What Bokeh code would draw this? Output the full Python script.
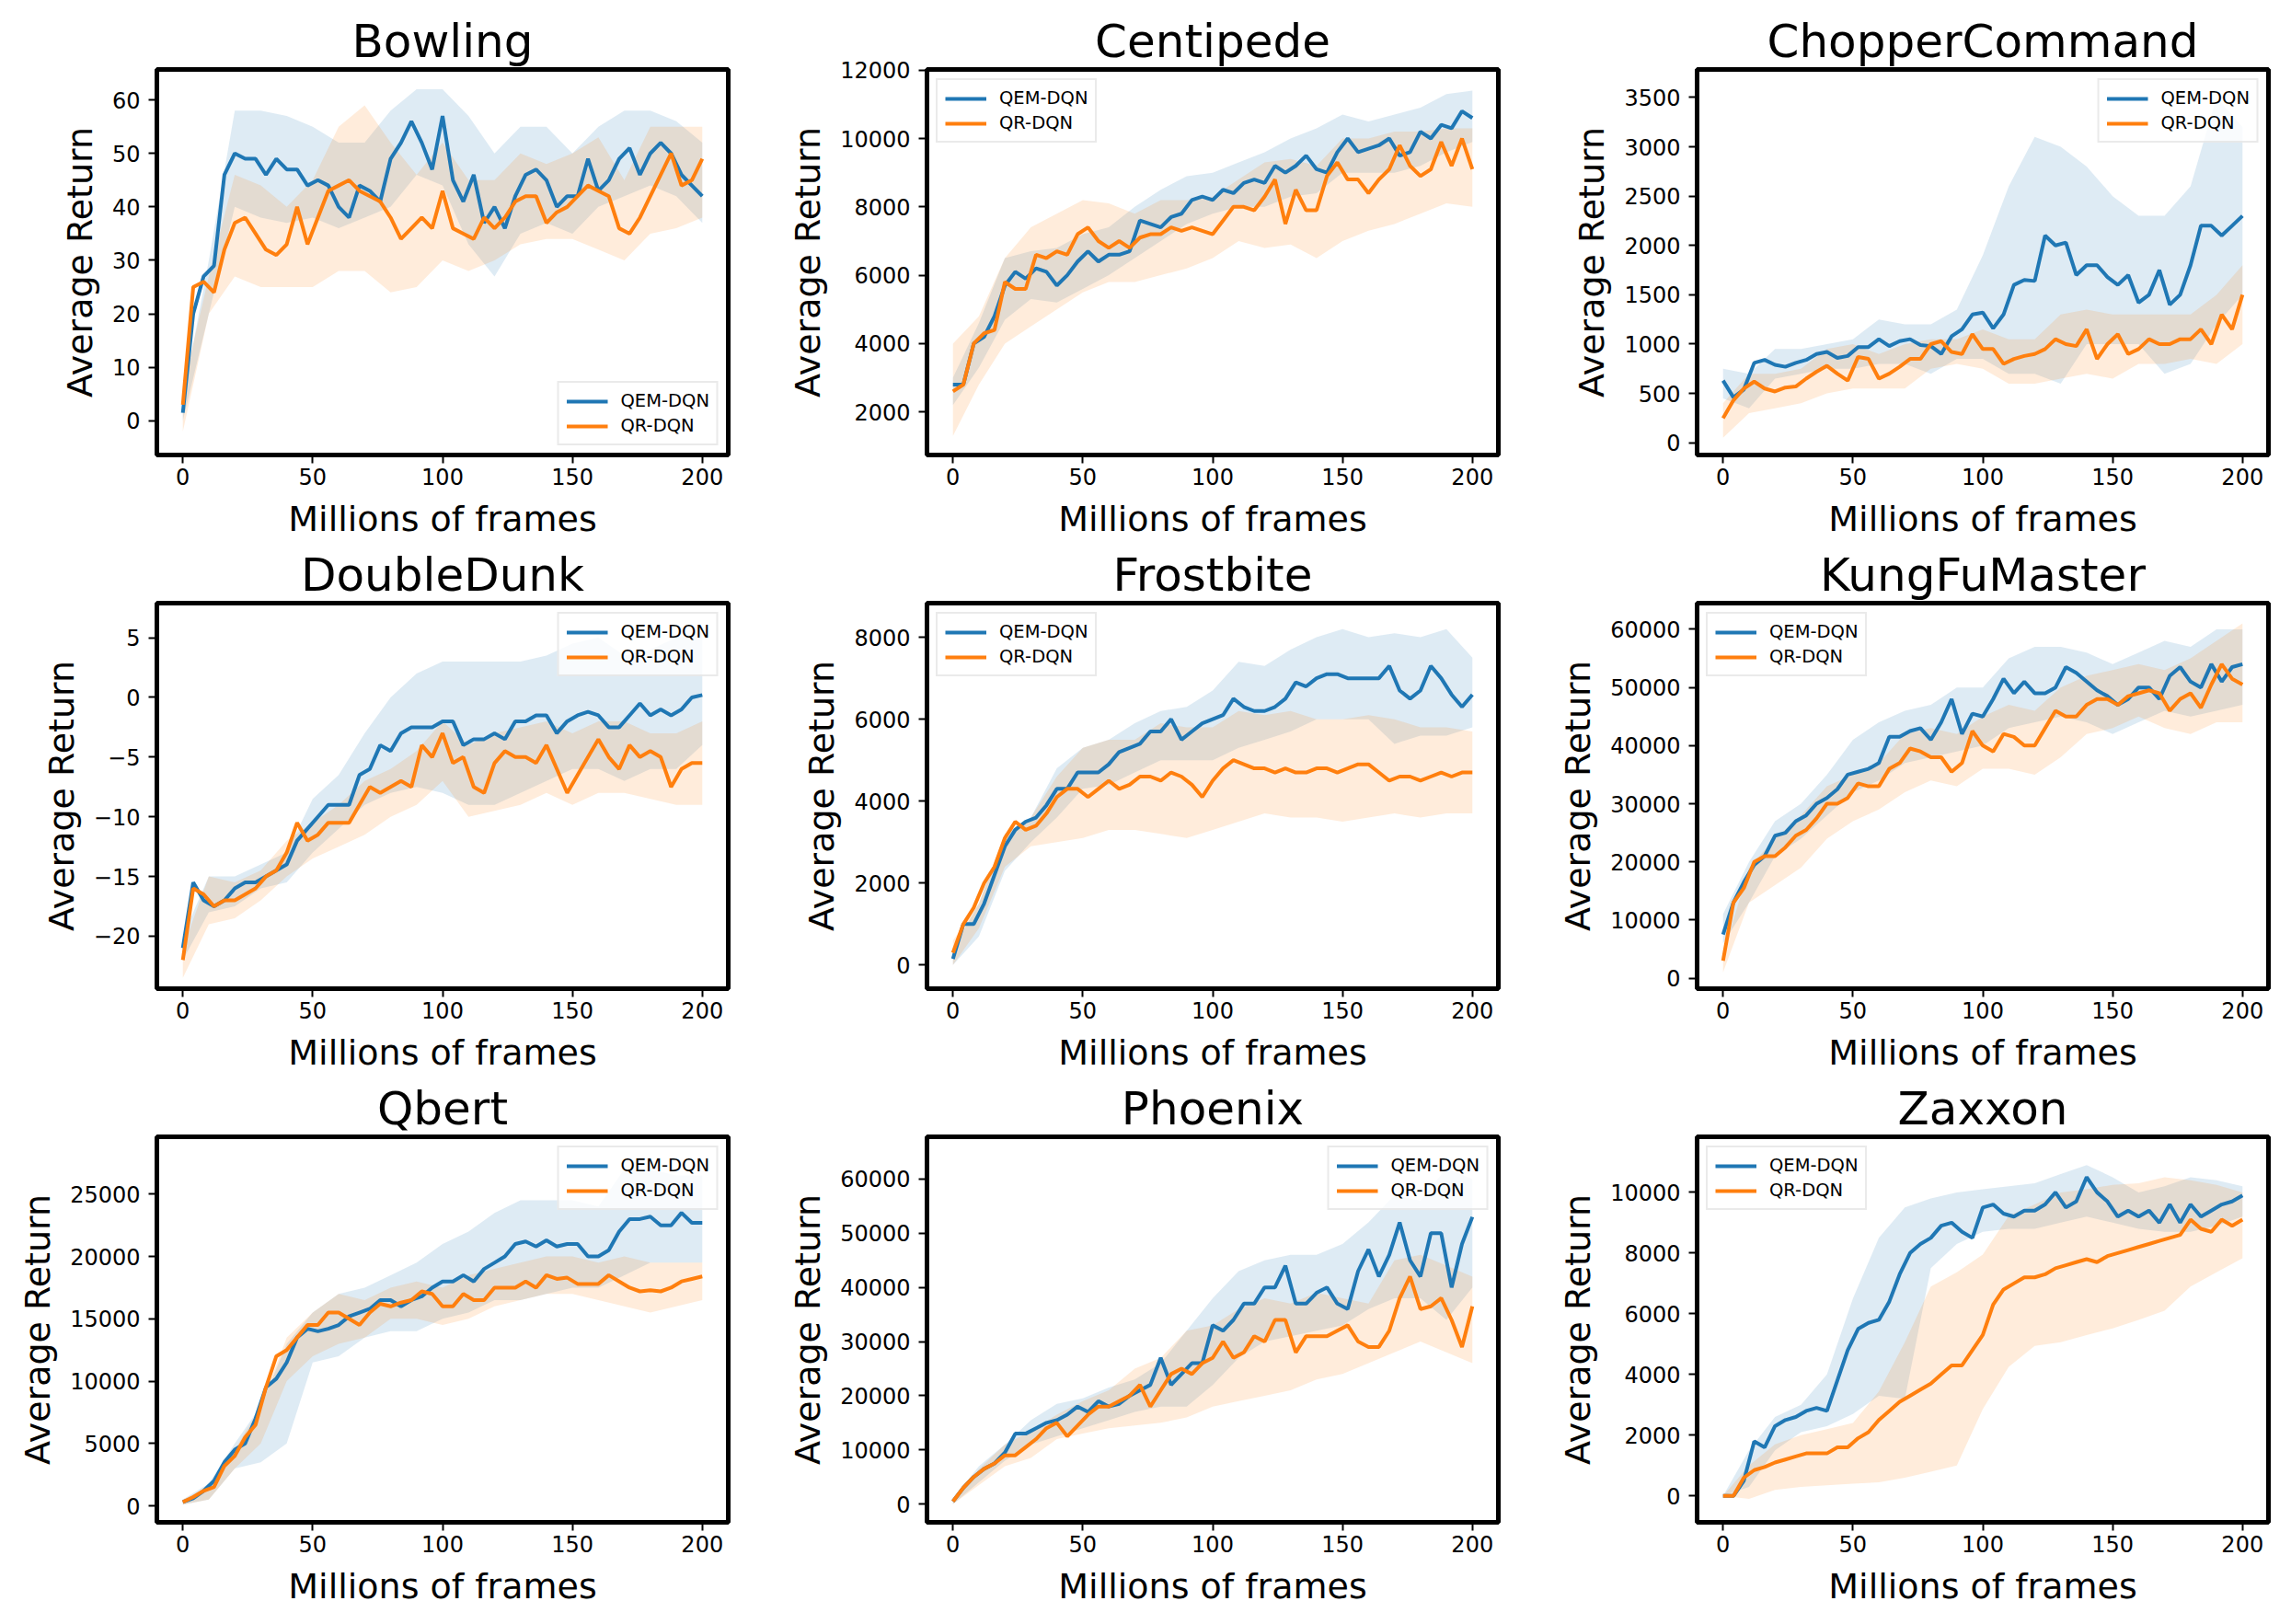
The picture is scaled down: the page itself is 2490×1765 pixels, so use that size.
from bokeh.plotting import figure
from bokeh.layouts import column, row
from bokeh.models import FixedTicker, Range1d, CustomJSTickFormatter
from bokeh.embed import file_html
from bokeh.resources import INLINE

BLUE = "#1f77b4"
ORANGE = "#ff7f0e"
FONT = "DejaVu Sans"

# x positions (millions of frames)
FRAMES = list(range(0, 201, 4))
BAND_FRAMES = list(range(0, 201, 10))
X_TICKS = [0, 50, 100, 150, 200]

# ---------------- Bowling ----------------
BOWLING_QEM = [1.5, 20, 27, 29, 46, 50, 49, 49, 46, 49, 47, 47, 44, 45, 44, 40, 38, 44, 43, 41, 49, 52, 56, 52, 47, 57,
               45, 41, 46, 37, 40, 36, 42, 46, 47, 45, 40, 42, 42, 49, 43, 45, 49, 51, 46, 50, 52, 50, 46, 44, 42]
BOWLING_QR = [3, 25, 26, 24, 32, 37, 38, 35, 32, 31, 33, 40, 33, 38, 43, 44, 45, 43, 42, 41, 38, 34, 36, 38, 36, 43,
              36, 35, 34, 38, 36, 38, 41, 42, 42, 37, 39, 40, 42, 44, 43, 42, 36, 35, 38, 42, 46, 50, 44, 45, 49]
BOWLING_QEM_LO = [0, 20, 40, 38, 37, 38, 36, 38, 40, 46, 44, 33, 27, 35, 37, 35, 40, 42, 44, 42, 37]
BOWLING_QEM_HI = [4, 30, 58, 58, 57, 55, 52, 52, 58, 62, 62, 57, 50, 55, 55, 50, 55, 58, 58, 56, 52]
BOWLING_QR_LO = [-2, 20, 27, 25, 25, 25, 28, 28, 24, 25, 30, 28, 30, 33, 34, 34, 32, 30, 35, 36, 38]
BOWLING_QR_HI = [6, 27, 46, 44, 40, 45, 55, 59, 52, 46, 52, 45, 45, 50, 48, 50, 53, 45, 55, 55, 55]
BOWLING_YT = [0, 10, 20, 30, 40, 50, 60]

# ---------------- Centipede ----------------
CENT_QEM = [2800, 2800, 4000, 4200, 4800, 5700, 6100, 5900, 6200, 6100, 5700, 6000, 6400, 6700, 6400, 6600, 6600,
            6700, 7600, 7500, 7400, 7700, 7800, 8200, 8300, 8200, 8500, 8400, 8700, 8800, 8700, 9200, 9000, 9200,
            9500, 9100, 9000, 9600, 10000, 9600, 9700, 9800, 10000, 9500, 9600, 10200, 10000, 10400, 10300, 10800, 10600]
CENT_QR = [2600, 2800, 4000, 4300, 4400, 5800, 5600, 5600, 6600, 6500, 6700, 6600, 7200, 7400, 7000, 6800, 7000,
           6800, 7100, 7200, 7200, 7400, 7300, 7400, 7300, 7200, 7600, 8000, 8000, 7900, 8300, 8800, 7500, 8500,
           7900, 7900, 8900, 9300, 8800, 8800, 8400, 8800, 9100, 9800, 9200, 8900, 9100, 9900, 9200, 10000, 9100]
CENT_QEM_LO = [2200, 3300, 4700, 5300, 5200, 5600, 6000, 6500, 7000, 7500, 7800, 8000, 8000, 8300, 8400, 9000, 9000,
               9000, 9200, 9600, 9900]
CENT_QEM_HI = [3000, 4600, 6500, 6700, 6800, 7200, 7400, 8000, 8500, 8900, 9000, 9300, 9600, 10000, 10300, 10700,
               10500, 10700, 10900, 11300, 11400]
CENT_QR_LO = [1300, 2800, 4000, 4500, 5000, 5500, 5800, 5800, 6000, 6200, 6500, 7000, 6800, 6900, 6500, 7000, 7300,
              7500, 7800, 8100, 8000]
CENT_QR_HI = [4000, 4800, 6500, 7400, 7800, 8200, 8100, 7800, 8200, 8200, 8300, 8800, 9300, 9400, 9200, 10000, 10000,
              10200, 10200, 10300, 10300]
CENT_YT = [2000, 4000, 6000, 8000, 10000, 12000]

# ---------------- ChopperCommand ----------------
CHOP_QEM = [630, 460, 540, 810, 840, 790, 770, 810, 840, 900, 920, 860, 880, 970, 970, 1050, 980, 1030, 1050, 990,
            980, 900, 1080, 1150, 1300, 1320, 1160, 1300, 1600, 1650, 1640, 2100, 2000, 2030, 1700, 1800, 1800, 1680,
            1600, 1700, 1420, 1500, 1750, 1400, 1500, 1800, 2200, 2200, 2100, 2200, 2300]
CHOP_QR = [250, 430, 550, 620, 550, 520, 560, 570, 650, 720, 780, 700, 630, 870, 850, 650, 700, 770, 850, 850, 1000,
           1030, 920, 900, 1100, 950, 950, 800, 850, 880, 900, 950, 1050, 1000, 980, 1150, 850, 1000, 1100, 900, 950,
           1050, 1000, 1000, 1050, 1050, 1150, 1000, 1300, 1150, 1500]
CHOP_QEM_LO = [450, 350, 650, 700, 750, 750, 800, 800, 700, 850, 850, 700, 700, 600, 1000, 1000, 1000, 700, 800, 1200, 1500]
CHOP_QEM_HI = [750, 700, 950, 950, 1000, 1050, 1250, 1200, 1200, 1350, 1900, 2600, 3100, 3000, 2800, 2500, 2300, 2300,
               2600, 3500, 3200]
CHOP_QR_LO = [50, 300, 350, 400, 500, 550, 550, 550, 750, 800, 750, 600, 600, 650, 700, 650, 800, 800, 850, 800, 1000]
CHOP_QR_HI = [400, 700, 700, 750, 950, 1000, 900, 1000, 1050, 1050, 1150, 1050, 1050, 1300, 1350, 1300, 1300, 1300,
              1300, 1500, 1800]
CHOP_YT = [0, 500, 1000, 1500, 2000, 2500, 3000, 3500]

# ---------------- DoubleDunk ----------------
DD_QEM = [-21, -15.5, -17, -17.5, -17, -16, -15.5, -15.5, -15, -14.5, -14, -12, -11, -10, -9, -9, -9, -6.5, -6, -4,
          -4.5, -3, -2.5, -2.5, -2.5, -2, -2, -4, -3.5, -3.5, -3, -3.5, -2, -2, -1.5, -1.5, -3, -2, -1.5, -1.2, -1.5,
          -2.5, -2.5, -1.5, -0.5, -1.5, -1, -1.5, -1, 0, 0.2]
DD_QR = [-22, -16, -16.5, -17.5, -17, -17, -16.5, -16, -15, -14.5, -13, -10.5, -12, -11.5, -10.5, -10.5, -10.5, -9,
         -7.5, -8, -7.5, -7, -7.5, -4, -5, -3, -5.5, -5, -7.5, -8, -5.5, -4.5, -5, -5, -5.5, -4, -6, -8, -6.5, -5,
         -3.5, -5, -6, -4, -5, -4.5, -5, -7.5, -6, -5.5, -5.5]
DD_QEM_LO = [-22, -18, -17.5, -16, -15.5, -13, -11, -9, -8, -7.5, -8, -9, -9, -8, -7, -6, -6, -7, -6, -6, -4]
DD_QEM_HI = [-20, -15, -15, -14, -13, -8.5, -6.5, -3, 0, 2, 3, 3, 3, 3, 3.5, 4.5, 5, 3.5, 4, 5, 5.5]
DD_QR_LO = [-23.5, -19, -18.5, -17, -15, -13.5, -12.5, -11.5, -10, -9, -7, -10, -9.5, -9, -8, -9, -8, -8, -8.5, -9, -9]
DD_QR_HI = [-21, -15, -15.5, -14.5, -12, -10.5, -9, -7, -6, -4.5, -2, -4, -3, -2.5, -2, -3, -2, -2, -3, -3, -2]
DD_YT = [-20, -15, -10, -5, 0, 5]

# ---------------- Frostbite ----------------
FROST_QEM = [150, 1000, 1000, 1500, 2200, 2900, 3300, 3500, 3600, 3900, 4300, 4300, 4700, 4700, 4700, 4900, 5200,
             5300, 5400, 5700, 5700, 6000, 5500, 5700, 5900, 6000, 6100, 6500, 6300, 6200, 6200, 6300, 6500, 6900,
             6800, 7000, 7100, 7100, 7000, 7000, 7000, 7000, 7300, 6700, 6500, 6700, 7300, 7000, 6600, 6300, 6600]
FROST_QR = [300, 1000, 1400, 2000, 2400, 3100, 3500, 3300, 3400, 3700, 4100, 4300, 4300, 4100, 4300, 4500, 4300, 4400,
            4600, 4600, 4500, 4700, 4600, 4400, 4100, 4500, 4800, 5000, 4900, 4800, 4800, 4700, 4800, 4700, 4700, 4800,
            4800, 4700, 4800, 4900, 4900, 4700, 4500, 4600, 4600, 4500, 4600, 4700, 4600, 4700, 4700]
FROST_QEM_LO = [0, 700, 2300, 3000, 3600, 4300, 4400, 4700, 5000, 5000, 5000, 5300, 5500, 5700, 6000, 6000, 6000, 5400,
                5600, 5600, 5800]
FROST_QEM_HI = [400, 1500, 3200, 3600, 4800, 5300, 5500, 5900, 6200, 6300, 6700, 7400, 7300, 7700, 8000, 8200, 8000,
                8100, 8000, 8200, 7500]
FROST_QR_LO = [0, 900, 2400, 2900, 3000, 3100, 3300, 3300, 3200, 3100, 3300, 3500, 3700, 3600, 3600, 3500, 3600, 3700,
               3600, 3700, 3700]
FROST_QR_HI = [600, 1500, 3200, 3600, 4600, 5300, 5500, 5500, 5900, 5800, 5800, 6200, 6100, 6200, 6000, 6000, 6100,
               6000, 5800, 5800, 5700]
FROST_YT = [0, 2000, 4000, 6000, 8000]

# ---------------- KungFuMaster ----------------
KFM_QEM = [7500, 13000, 16500, 19500, 21000, 24500, 25000, 27000, 28000, 30000, 31000, 32500, 35000, 35500, 36000,
           37000, 41500, 41500, 42500, 43000, 41000, 44000, 48000, 42000, 45500, 45000, 48000, 51500, 49000, 51000,
           49000, 49000, 50000, 53500, 52500, 51000, 49500, 48500, 47000, 48000, 50000, 50000, 48000, 52000, 53500,
           51000, 50000, 54000, 51000, 53500, 54000]
KFM_QR = [3000, 13000, 15500, 20000, 21000, 21000, 22500, 24500, 25500, 27500, 30000, 30000, 31000, 33500, 33000,
          33000, 36000, 37000, 39500, 39000, 38000, 38000, 35500, 37000, 42500, 40000, 39000, 42000, 41500, 40000,
          40000, 43000, 46000, 45000, 45000, 47000, 48000, 48000, 47000, 48500, 49000, 49500, 49000, 46000, 48000,
          49000, 46500, 50500, 54000, 51500, 50500]
KFM_QEM_LO = [6000, 13000, 21000, 24000, 28000, 32000, 34000, 37000, 38000, 39000, 40000, 43000, 44000, 45000, 44000,
              42000, 44000, 46000, 45000, 46000, 47000]
KFM_QEM_HI = [11000, 20000, 27000, 30000, 35000, 41000, 44000, 46000, 47000, 50000, 50000, 55000, 57000, 57000, 56000,
              54000, 56000, 58000, 57000, 60000, 60000]
KFM_QR_LO = [1000, 13000, 16000, 19000, 24000, 27000, 29000, 32000, 34000, 33000, 36000, 36000, 35000, 38000, 42000,
             43000, 45000, 43000, 42000, 44000, 44000]
KFM_QR_HI = [4000, 19000, 24000, 28000, 33000, 35000, 37000, 42000, 43000, 42000, 45000, 47000, 46000, 50000, 52000,
             53000, 54000, 53000, 55000, 58000, 61000]
KFM_YT = [0, 10000, 20000, 30000, 40000, 50000, 60000]

# ---------------- Qbert ----------------
QB_QEM = [300, 600, 1200, 2000, 3500, 4500, 5000, 7000, 9500, 10200, 11500, 13500, 14200, 14000, 14200, 14500, 15200,
          15500, 15800, 16500, 16500, 16000, 16500, 16800, 17500, 18000, 18000, 18500, 18000, 19000, 19500, 20000,
          21000, 21200, 20800, 21300, 20800, 21000, 21000, 20000, 20000, 20500, 22000, 23000, 23000, 23200, 22500,
          22500, 23500, 22700, 22700]
QB_QR = [300, 700, 1200, 1500, 3200, 4000, 5500, 6500, 9500, 12000, 12500, 13500, 14500, 14500, 15500, 15500, 15000,
         14500, 15500, 16200, 16000, 16300, 16500, 17200, 17000, 16000, 16000, 17000, 16500, 16500, 17500, 17500,
         17500, 18000, 17500, 18500, 18200, 18300, 17800, 17800, 17800, 18500, 18000, 17500, 17200, 17300, 17200,
         17500, 18000, 18200, 18400]
QB_QEM_LO = [100, 500, 3000, 3500, 5000, 11500, 12000, 13500, 14000, 14000, 15000, 15500, 16500, 16500, 17000, 17500,
             17500, 18500, 19500, 19500, 19500]
QB_QEM_HI = [500, 1800, 5000, 8000, 13000, 15500, 17000, 17500, 18500, 19500, 21000, 22000, 23500, 24500, 24500,
             24500, 24000, 27000, 27000, 26500, 26500]
QB_QR_LO = [100, 500, 3000, 5000, 10000, 12000, 13000, 13500, 15000, 15000, 14500, 15000, 16000, 16500, 17000, 17000,
            16500, 16000, 15500, 16000, 16500]
QB_QR_HI = [500, 1500, 4500, 8000, 13500, 15500, 17000, 16500, 17500, 18000, 17500, 18500, 19000, 19500, 20000, 20000,
            19500, 20000, 19500, 19500, 19500]
QB_YT = [0, 5000, 10000, 15000, 20000, 25000]

# ---------------- Phoenix ----------------
PHX_QEM = [500, 3000, 5000, 6500, 7500, 9500, 13000, 13000, 14000, 15000, 15500, 16500, 18000, 17000, 19000, 18000,
           18500, 20000, 21000, 22000, 27000, 22000, 24000, 26000, 26000, 33000, 32000, 34000, 37000, 37000, 40000,
           40000, 44000, 37000, 37000, 39000, 40000, 37000, 36000, 43000, 47000, 42000, 46000, 52000, 45000, 42000,
           50000, 50000, 40000, 48000, 53000]
PHX_QR = [500, 3000, 5000, 6500, 7500, 9000, 9000, 10500, 12000, 14000, 15000, 12500, 14500, 16500, 18000, 18000,
          19000, 20000, 22000, 18000, 21000, 24000, 25000, 24000, 26000, 27000, 30000, 27000, 28000, 31000, 30000,
          34000, 34000, 28000, 31000, 31000, 31000, 32000, 33000, 30000, 29000, 29000, 32000, 38000, 42000, 36000,
          36500, 38000, 34000, 29000, 36500]
PHX_QEM_LO = [0, 4000, 8000, 11000, 12500, 14000, 15500, 17000, 18000, 18000, 22000, 27000, 30000, 31000, 32000, 33000,
              36000, 38000, 38000, 34000, 40000]
PHX_QEM_HI = [1000, 7000, 11000, 15500, 18500, 19500, 21500, 23000, 26000, 32000, 38000, 43000, 45000, 46000, 46000,
              48000, 52000, 57000, 56000, 62000, 60000]
PHX_QR_LO = [0, 3500, 7000, 8500, 12000, 13000, 14000, 14500, 15000, 16000, 18000, 19000, 20000, 21000, 23000, 24000,
             26000, 28000, 30000, 28000, 26000]
PHX_QR_HI = [1000, 6500, 11000, 13500, 16500, 19000, 21000, 25000, 27000, 32000, 33000, 36000, 38000, 37000, 39000,
             38000, 37000, 45000, 46000, 44000, 42000]
PHX_YT = [0, 10000, 20000, 30000, 40000, 50000, 60000]

# ---------------- Zaxxon ----------------
ZAX_QEM = [0, 0, 500, 1800, 1600, 2300, 2500, 2600, 2800, 2900, 2800, 3800, 4800, 5500, 5700, 5800, 6400, 7300, 8000,
           8300, 8500, 8900, 9000, 8700, 8500, 9500, 9600, 9300, 9200, 9400, 9400, 9600, 10000, 9500, 9700, 10500,
           10000, 9700, 9200, 9400, 9200, 9400, 9000, 9600, 9000, 9600, 9200, 9400, 9600, 9700, 9900]
ZAX_QR = [0, 0, 600, 850, 950, 1100, 1200, 1300, 1400, 1400, 1400, 1600, 1600, 1900, 2100, 2500, 2800, 3100, 3300,
          3500, 3700, 4000, 4300, 4300, 4800, 5300, 6300, 6800, 7000, 7200, 7200, 7300, 7500, 7600, 7700, 7800, 7700,
          7900, 8000, 8100, 8200, 8300, 8400, 8500, 8600, 9100, 8800, 8700, 9100, 8900, 9100]
ZAX_QEM_LO = [0, 300, 1500, 2100, 2300, 2700, 3300, 3200, 7500, 8300, 8700, 8800, 8800, 9000, 9200, 9000, 8800, 8700,
              8700, 8900, 9200]
ZAX_QEM_HI = [0, 1500, 2600, 3000, 4000, 6500, 8500, 9500, 9800, 10000, 10100, 10200, 10300, 10600, 10900, 10500,
              10000, 10200, 10500, 10400, 10200]
ZAX_QR_LO = [0, -100, 200, 300, 350, 400, 450, 600, 800, 1000, 2860, 4250, 4940, 5060, 5300, 5520, 5800, 6100, 6900,
             7370, 7830]
ZAX_QR_HI = [0, 1000, 1700, 2000, 2200, 2400, 3440, 5060, 6900, 7370, 7950, 9220, 9600, 10000, 10100, 10250, 10300,
             10500, 10400, 10250, 10000]
ZAX_YT = [0, 2000, 4000, 6000, 8000, 10000]

PANELS = [
    ("Bowling", BOWLING_QEM, BOWLING_QR, BOWLING_QEM_LO, BOWLING_QEM_HI, BOWLING_QR_LO, BOWLING_QR_HI,
     (-6.4, 65.7), BOWLING_YT, "bottom_right"),
    ("Centipede", CENT_QEM, CENT_QR, CENT_QEM_LO, CENT_QEM_HI, CENT_QR_LO, CENT_QR_HI,
     (740, 12020), CENT_YT, "top_left"),
    ("ChopperCommand", CHOP_QEM, CHOP_QR, CHOP_QEM_LO, CHOP_QEM_HI, CHOP_QR_LO, CHOP_QR_HI,
     (-124, 3784), CHOP_YT, "top_right"),
    ("DoubleDunk", DD_QEM, DD_QR, DD_QEM_LO, DD_QEM_HI, DD_QR_LO, DD_QR_HI,
     (-24.4, 7.9), DD_YT, "top_right"),
    ("Frostbite", FROST_QEM, FROST_QR, FROST_QEM_LO, FROST_QEM_HI, FROST_QR_LO, FROST_QR_HI,
     (-576, 8833), FROST_YT, "top_left"),
    ("KungFuMaster", KFM_QEM, KFM_QR, KFM_QEM_LO, KFM_QEM_HI, KFM_QR_LO, KFM_QR_HI,
     (-1800, 64500), KFM_YT, "top_left"),
    ("Qbert", QB_QEM, QB_QR, QB_QEM_LO, QB_QEM_HI, QB_QR_LO, QB_QR_HI,
     (-1325, 29600), QB_YT, "top_right"),
    ("Phoenix", PHX_QEM, PHX_QR, PHX_QEM_LO, PHX_QEM_HI, PHX_QR_LO, PHX_QR_HI,
     (-3370, 67800), PHX_YT, "top_right"),
    ("Zaxxon", ZAX_QEM, ZAX_QR, ZAX_QEM_LO, ZAX_QEM_HI, ZAX_QR_LO, ZAX_QR_HI,
     (-870, 11830), ZAX_YT, "top_left"),
]


def make_panel(idx, spec):
    name, qem, qr, qem_lo, qem_hi, qr_lo, qr_hi, yr, yt, loc = spec
    col = idx % 3
    rw = idx // 3
    left = 170 if col == 0 else 162
    right = 54 if col < 2 else 17
    top = 75 if rw == 0 else 67
    p = figure(width=left + 621 + right, height=top + 419 + 94, output_backend="svg", toolbar_location=None,
               x_range=Range1d(-10, 210), y_range=Range1d(yr[0], yr[1]),
               min_border_left=left, min_border_right=right, min_border_top=top, min_border_bottom=94)
    p.title.text = name
    p.title.text_font = FONT
    p.title.text_font_size = "50px"
    p.title.text_font_style = "normal"
    p.title.align = "center"
    p.title.text_color = "black"
    p.title.standoff = 4

    p.varea(x=BAND_FRAMES, y1=qem_lo, y2=qem_hi, fill_color=BLUE, fill_alpha=0.15)
    p.varea(x=BAND_FRAMES, y1=qr_lo, y2=qr_hi, fill_color=ORANGE, fill_alpha=0.15)
    p.line(FRAMES, qem, line_color=BLUE, line_width=4, legend_label="QEM-DQN")
    p.line(FRAMES, qr, line_color=ORANGE, line_width=4, legend_label="QR-DQN")

    p.xaxis.ticker = FixedTicker(ticks=X_TICKS)
    p.yaxis.ticker = FixedTicker(ticks=yt)
    if min(yt) < 0:
        p.yaxis.formatter = CustomJSTickFormatter(
            code="return (tick < 0 ? '\u2212' : '') + Math.abs(tick).toString();")
    p.xaxis.axis_label = "Millions of frames"
    p.yaxis.axis_label = "Average Return"
    for ax in (p.xaxis[0], p.yaxis[0]):
        ax.axis_line_color = None
        ax.major_tick_line_color = "black"
        ax.major_tick_line_width = 2
        ax.major_tick_out = 9
        ax.major_tick_in = 0
        ax.minor_tick_line_color = None
        ax.major_label_text_font = FONT
        ax.major_label_text_font_size = "24px"
        ax.major_label_text_color = "black"
        ax.axis_label_text_font = FONT
        ax.axis_label_text_font_size = "38px"
        ax.axis_label_text_font_style = "normal"
        ax.axis_label_text_color = "black"
    p.xaxis.major_label_standoff = 5
    p.yaxis.major_label_standoff = 9
    p.xaxis.axis_label_standoff = 12
    p.yaxis.axis_label_standoff = 10
    p.xgrid.visible = False
    p.ygrid.visible = False
    p.outline_line_color = "black"
    p.outline_line_width = 5
    p.outline_line_alpha = 1.0
    p.background_fill_color = "white"
    p.border_fill_color = "white"

    lg = p.legend[0]
    lg.location = loc
    lg.label_text_font = FONT
    lg.label_text_font_size = "19.5px"
    lg.label_text_color = "black"
    lg.glyph_width = 45
    lg.glyph_height = 22
    lg.label_standoff = 14
    lg.padding = 8
    lg.spacing = 4
    lg.margin = 10
    lg.border_line_color = "#d5d5d5"
    lg.border_line_width = 2
    lg.background_fill_alpha = 0.8
    return p


figs = [make_panel(i, s) for i, s in enumerate(PANELS)]
layout = column(row(figs[0], figs[1], figs[2]),
                row(figs[3], figs[4], figs[5]),
                row(figs[6], figs[7], figs[8]))

open("out.html", "w").write(file_html(layout, INLINE))
